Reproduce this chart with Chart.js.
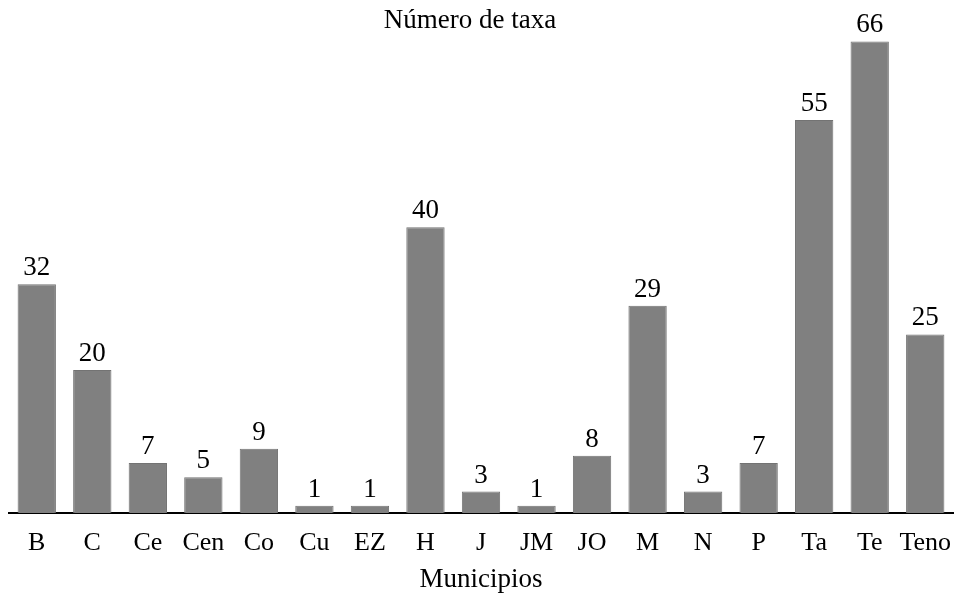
<!DOCTYPE html>
<html>
<head>
<meta charset="utf-8">
<script src="https://cdn.jsdelivr.net/npm/chart.js@4/dist/chart.umd.min.js"></script>
<style>
  html, body { margin: 0; padding: 0; background: #fff; }
  #wrap { width: 957px; height: 596px; }
</style>
</head>
<body>
<div id="wrap"><canvas id="chart"></canvas></div>
<script>
var municipios = ['B', 'C', 'Ce', 'Cen', 'Co', 'Cu', 'EZ', 'H', 'J', 'JM', 'JO', 'M', 'N', 'P', 'Ta', 'Te', 'Teno'];
var taxa = [32, 20, 7, 5, 9, 1, 1, 40, 3, 1, 8, 29, 3, 7, 55, 66, 25];
var chartTitle = 'Número de taxa';
var axisTitle = 'Municipios';

var serif = "'Liberation Serif', 'Times New Roman', serif";

// value above each bar + title at the top
var labelsPlugin = {
    id: 'barLabels',
    afterDatasetsDraw: function(chart) {
        var ctx = chart.ctx;
        var meta = chart.getDatasetMeta(0);
        ctx.save();
        ctx.fillStyle = '#000';
        ctx.font = '27px ' + serif;
        ctx.textAlign = 'center';
        ctx.textBaseline = 'alphabetic';
        meta.data.forEach(function(bar, i) {
            ctx.fillText(String(taxa[i]), bar.x, bar.y - 9);
        });
        ctx.font = '27px ' + serif;
        ctx.fillText(chartTitle, 470, 28);
        ctx.restore();
    }
};

var ctx = document.getElementById('chart').getContext('2d');
new Chart(ctx, {
    type: 'bar',
    data: {
        labels: municipios,
        datasets: [{
            data: taxa,
            backgroundColor: '#808080',
            borderColor: '#737373',
            borderWidth: 1,
            categoryPercentage: 1,
            barPercentage: 0.69
        }]
    },
    options: {
        responsive: true,
        maintainAspectRatio: false,
        animation: false,
        layout: { padding: { left: 9, right: 4, top: 20, bottom: 0 } },
        plugins: {
            legend: { display: false },
            tooltip: { enabled: false },
            title: { display: false }
        },
        scales: {
            x: {
                afterFit: function(scale) {
                    // don't let the first/last tick label shrink the plot
                    scale.paddingLeft = 0;
                    scale.paddingRight = 0;
                    scale.height = 83;
                },
                grid: { display: false, drawTicks: false },
                border: { display: true, color: '#000', width: 2 },
                ticks: {
                    color: '#000',
                    padding: 17,
                    autoSkip: false,
                    maxRotation: 0,
                    minRotation: 0,
                    font: { family: serif, size: 26, lineHeight: 1 }
                },
                title: {
                    display: true,
                    text: axisTitle,
                    color: '#000',
                    padding: { top: 9, bottom: 3 },
                    font: { family: serif, size: 27, lineHeight: 1 }
                }
            },
            y: {
                display: false,
                min: 0,
                max: 69
            }
        }
    },
    plugins: [labelsPlugin]
});
</script>
</body>
</html>
